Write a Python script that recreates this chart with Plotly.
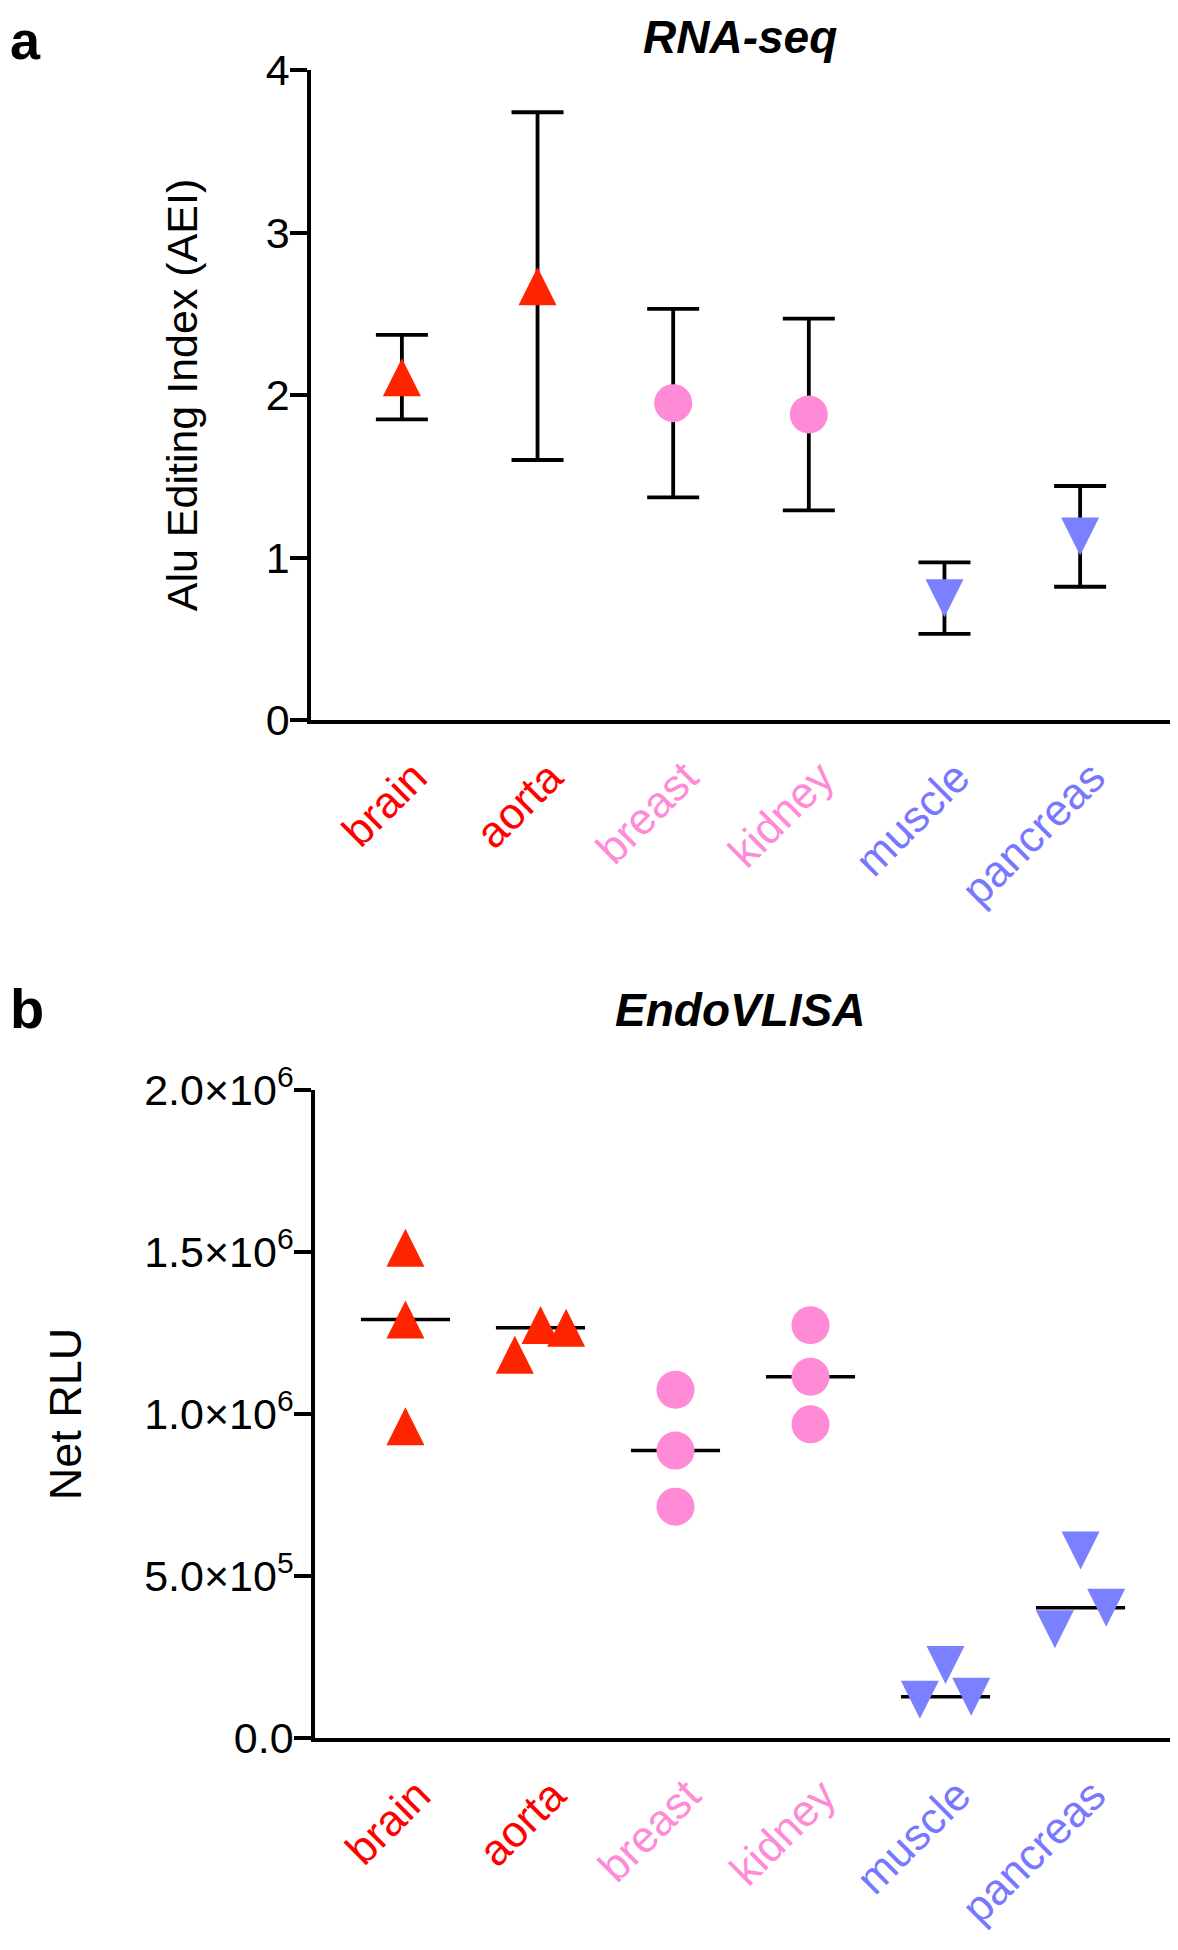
import numpy as np
import plotly.graph_objects as go

# ---------------- data ----------------
categories = ["brain", "aorta", "breast", "kidney", "muscle", "pancreas"]

# Panel a: RNA-seq Alu Editing Index (mean and SD)
aei_mean = [2.11, 2.67, 1.95, 1.88, 0.75, 1.13]
aei_sd = [0.26, 1.07, 0.58, 0.59, 0.22, 0.31]

# Panel b: EndoVLISA Net RLU replicates
rlu_brain = [1.513e6, 1.292e6, 0.962e6]
rlu_aorta = [1.183e6, 1.275e6, 1.266e6]
rlu_breast = [1.075e6, 0.887e6, 0.714e6]
rlu_kidney = [1.274e6, 1.115e6, 0.968e6]
rlu_muscle = [0.118e6, 0.225e6, 0.127e6]
rlu_pancreas = [0.336e6, 0.579e6, 0.402e6]

yb_tickvals = [0, 5e5, 1e6, 1.5e6, 2e6]
yb_ticktext = ["0.0", "5.0×10<sup>5</sup>", "1.0×10<sup>6</sup>",
               "1.5×10<sup>6</sup>", "2.0×10<sup>6</sup>"]

# ---------------- styles ----------------
RED, PINK, BLUE = "#FF2400", "#FF8AD6", "#7B80FF"
LBL = {"brain": "#FF0000", "aorta": "#FF0000", "breast": "#FF8AD6",
       "kidney": "#FF8AD6", "muscle": "#7777FF", "pancreas": "#7777FF"}
COL = {"brain": RED, "aorta": RED, "breast": PINK, "kidney": PINK,
       "muscle": BLUE, "pancreas": BLUE}
SHAPE = {"brain": "up", "aorta": "up", "breast": "circle", "kidney": "circle",
         "muscle": "down", "pancreas": "down"}
# horizontal scatter of replicate points in panel b
JITTER = {"brain": [0, 0, 0], "aorta": [-0.19, 0, 0.19],
          "breast": [0, 0, 0], "kidney": [0, 0, 0],
          "muscle": [-0.19, 0, 0.19], "pancreas": [-0.19, 0, 0.19]}
rlu = {"brain": rlu_brain, "aorta": rlu_aorta, "breast": rlu_breast,
       "kidney": rlu_kidney, "muscle": rlu_muscle, "pancreas": rlu_pancreas}

TRI = 38
CIRC = 38
LABEL_SHIFT = 0.09  # rotated category labels sit slightly right of the category
FONT = "Liberation Sans, Arial, Helvetica, sans-serif"


def marker_for(cat):
    s = SHAPE[cat]
    if s == "circle":
        return dict(symbol="circle", size=CIRC, color=COL[cat], line=dict(width=0))
    # equilateral-looking triangles centred on the value
    if s == "up":
        return dict(symbol="arrow-down", size=TRI, color=COL[cat], line=dict(width=0),
                    angle=180, standoff=TRI / 2)
    return dict(symbol="arrow-down", size=TRI, color=COL[cat], line=dict(width=0),
                angle=0, standoff=TRI / 2)


fig = go.Figure()
idx = list(range(len(categories)))

# Panel a: mean +/- SD
for i, cat in enumerate(categories):
    fig.add_trace(go.Scatter(
        x=[i], y=[aei_mean[i]], mode="markers", xaxis="x", yaxis="y",
        marker=marker_for(cat),
        error_y=dict(type="data", array=[aei_sd[i]], visible=True,
                     color="black", thickness=3.8, width=26),
        showlegend=False, hoverinfo="skip"))

# Panel b: median lines then points
for i, cat in enumerate(categories):
    med = float(np.median(rlu[cat]))
    fig.add_trace(go.Scatter(
        x=[i - 0.33, i + 0.33], y=[med, med], mode="lines", xaxis="x2", yaxis="y2",
        line=dict(color="black", width=3.5), showlegend=False, hoverinfo="skip"))
for i, cat in enumerate(categories):
    fig.add_trace(go.Scatter(
        x=[i + j for j in JITTER[cat]], y=rlu[cat], mode="markers",
        xaxis="x2", yaxis="y2", marker=marker_for(cat),
        showlegend=False, hoverinfo="skip"))

# page body adds an 8px margin; work in page pixels and convert
OFF = 8
W, H = 1178 - OFF, 1950 - OFF


def px_x(p):
    return (p - OFF) / W


def px_y(p):
    return 1 - (p - OFF) / H


ticktext = [f'<span style="color:{LBL[c]}">{c}</span>' for c in categories]

xcommon = dict(range=[-0.67, 5.67], tickvals=[i + LABEL_SHIFT for i in idx],
               ticktext=ticktext, tickangle=-45,
               tickfont=dict(size=44, family=FONT), showline=True, linecolor="black",
               linewidth=3.5, ticks="", ticklabelstandoff=10, showgrid=False,
               zeroline=False, automargin=False)
ycommon = dict(showline=True, linecolor="black", linewidth=3.5, ticks="outside",
               ticklen=17, tickwidth=3.5, tickcolor="black", showgrid=False,
               zeroline=False, automargin=False, ticklabelstandoff=-8,
               tickfont=dict(size=43, family=FONT, color="black"))

fig.update_layout(
    template="none",
    width=W, height=H, margin=dict(l=0, r=0, t=0, b=0, autoexpand=False),
    paper_bgcolor="white", plot_bgcolor="white",
    font=dict(family=FONT, color="black"),
    xaxis=dict(domain=[px_x(311), px_x(1171)], anchor="y", **xcommon),
    yaxis=dict(domain=[px_y(720), px_y(70)], anchor="x", range=[0, 4],
               tickvals=[0, 1, 2, 3, 4],
               title=dict(text="Alu Editing Index (AEI)", font=dict(size=43, family=FONT),
                          standoff=56),
               **ycommon),
    xaxis2=dict(domain=[px_x(315), px_x(1171)], anchor="y2", **xcommon),
    yaxis2=dict(domain=[px_y(1738), px_y(1090)], anchor="x2", range=[0, 2e6],
                tickvals=yb_tickvals, ticktext=yb_ticktext,
                title=dict(text="Net RLU", font=dict(size=45, family=FONT), standoff=49),
                **ycommon),
    annotations=[
        dict(text="<b>a</b>", x=px_x(8), y=px_y(8), xref="paper", yref="paper",
             xanchor="left", yanchor="top", showarrow=False,
             font=dict(size=54, family=FONT)),
        dict(text="<b>b</b>", x=px_x(8), y=px_y(1008), xref="paper", yref="paper",
             xanchor="left", yanchor="middle", showarrow=False,
             font=dict(size=56, family=FONT)),
        dict(text="<b><i>RNA-seq</i></b>", x=px_x(740), y=px_y(37), xref="paper",
             yref="paper", xanchor="center", yanchor="middle", showarrow=False,
             font=dict(size=46, family=FONT)),
        dict(text="<b><i>EndoVLISA</i></b>", x=px_x(740), y=px_y(1010), xref="paper",
             yref="paper", xanchor="center", yanchor="middle", showarrow=False,
             font=dict(size=46, family=FONT)),
    ],
)

fig.write_html("out.html")
